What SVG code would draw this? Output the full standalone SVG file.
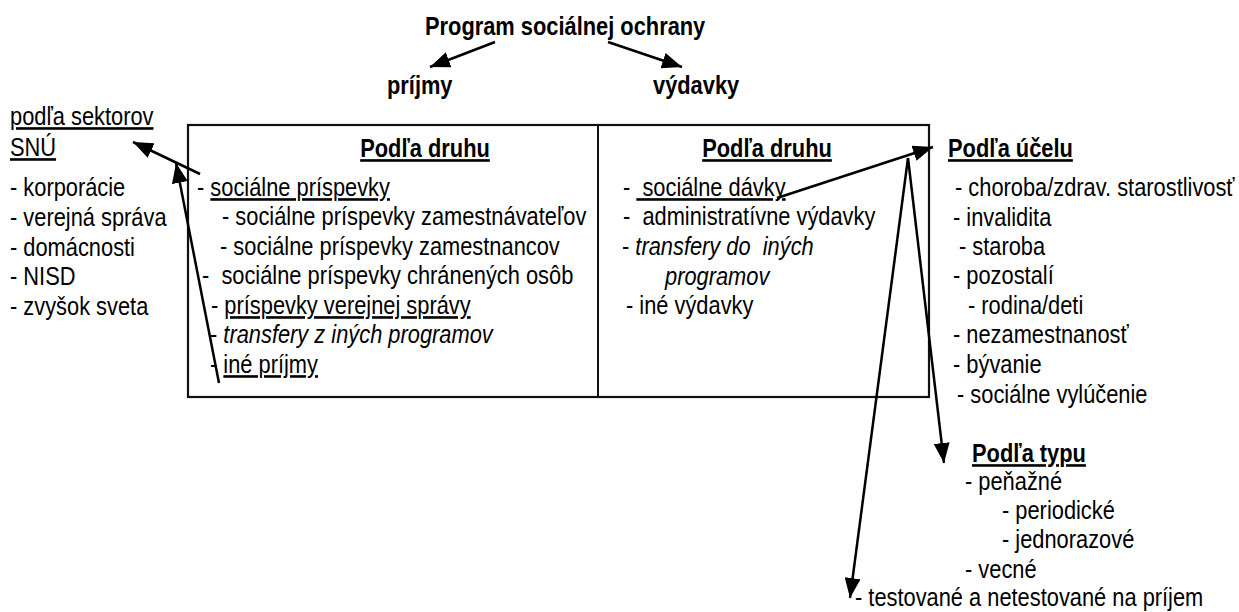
<svg xmlns="http://www.w3.org/2000/svg" width="1239" height="612" viewBox="0 0 1239 612" xml:space="preserve">
<style>
text{font-family:"Liberation Sans",Arial,sans-serif;font-size:26px;fill:#000;white-space:pre}
.b{font-weight:bold}
.i{font-style:italic}
.u{text-decoration:underline}
.mid{text-anchor:middle}
.con{stroke:#000;stroke-width:2.5;fill:none}
.box{fill:#fff;stroke:#111;stroke-width:2.2}
</style>
<defs>
<marker id="ah" markerUnits="userSpaceOnUse" markerWidth="22" markerHeight="16" refX="20" refY="8" orient="auto">
<path d="M0,0 L20,8 L0,16 z" fill="#000"/>
</marker>
</defs>
<rect width="1239" height="612" fill="#fff"/>

<g id="box">
<rect class="box" x="188" y="125" width="741" height="272"/>
<line x1="598" y1="125" x2="598" y2="397" stroke="#111" stroke-width="2"/>
</g>

<g id="title"><text class="b" transform="translate(425,35) scale(0.84,1)">Program sociálnej ochrany</text></g>
<g id="prijmy"><text class="b" transform="translate(387,94) scale(0.84,1)">príjmy</text></g>
<g id="vydavky"><text class="b" transform="translate(653,94) scale(0.84,1)">výdavky</text></g>

<g id="sektory">
<text class="u" transform="translate(10,125) scale(0.84,1)">podľa sektorov</text>
<text class="u" transform="translate(10,156) scale(0.84,1)">SNÚ</text>
<text transform="translate(10,196) scale(0.84,1)">- korporácie</text>
<text transform="translate(10,226) scale(0.84,1)">- verejná správa</text>
<text transform="translate(10,256) scale(0.84,1)">- domácnosti</text>
<text transform="translate(10,285) scale(0.84,1)">- NISD</text>
<text transform="translate(10,315) scale(0.84,1)">- zvyšok sveta</text>
</g>

<g id="prijmy-druh">
<text class="b u mid" transform="translate(425,157) scale(0.84,1)">Podľa druhu</text>
<text transform="translate(197,196) scale(0.84,1)">- <tspan class="u">sociálne príspevky</tspan></text>
<text transform="translate(222,225) scale(0.84,1)">- sociálne príspevky zamestnávateľov</text>
<text transform="translate(220,255) scale(0.84,1)">- sociálne príspevky zamestnancov</text>
<text transform="translate(202,284) scale(0.84,1)">-  sociálne príspevky chránených osôb</text>
<text transform="translate(211,314) scale(0.84,1)">- <tspan class="u">príspevky verejnej správy</tspan></text>
<text transform="translate(210,343) scale(0.84,1)">- <tspan class="i">transfery z iných programov</tspan></text>
<text transform="translate(210,373) scale(0.84,1)">- <tspan class="u">iné príjmy</tspan></text>
</g>

<g id="vydavky-druh">
<text class="b u mid" transform="translate(767,157) scale(0.84,1)">Podľa druhu</text>
<text transform="translate(623,196) scale(0.84,1)">- <tspan class="u"> sociálne dávky</tspan></text>
<text transform="translate(623,225) scale(0.84,1)">-  administratívne výdavky</text>
<text transform="translate(622,255) scale(0.84,1)">- <tspan class="i">transfery do  iných</tspan></text>
<text class="i" transform="translate(665,285) scale(0.84,1)">programov</text>
<text transform="translate(626,314) scale(0.84,1)">- iné výdavky</text>
</g>

<g id="ucel">
<text class="b u" transform="translate(948,157) scale(0.84,1)">Podľa účelu</text>
<text transform="translate(955,196) scale(0.84,1)">- choroba/zdrav. starostlivosť</text>
<text transform="translate(953,226) scale(0.84,1)">- invalidita</text>
<text transform="translate(959,255) scale(0.84,1)">- staroba</text>
<text transform="translate(953,284) scale(0.84,1)">- pozostalí</text>
<text transform="translate(968,314) scale(0.84,1)">- rodina/deti</text>
<text transform="translate(953,343) scale(0.84,1)">- nezamestnanosť</text>
<text transform="translate(953,373) scale(0.84,1)">- bývanie</text>
<text transform="translate(957,403) scale(0.84,1)">- sociálne vylúčenie</text>
</g>

<g id="typ">
<text class="b u" transform="translate(972,462) scale(0.84,1)">Podľa typu</text>
<text transform="translate(965,490) scale(0.84,1)">- peňažné</text>
<text transform="translate(1002,519) scale(0.84,1)">- periodické</text>
<text transform="translate(1002,548) scale(0.84,1)">- jednorazové</text>
<text transform="translate(965,578) scale(0.84,1)">- vecné</text>
</g>

<g id="testovane">
<text transform="translate(855,606) scale(0.84,1)">- testované a netestované na príjem</text>
</g>

<g id="connectors">
<line class="con" x1="495" y1="42" x2="430" y2="67" marker-end="url(#ah)"/>
<line class="con" x1="608" y1="42" x2="682" y2="67" marker-end="url(#ah)"/>
<line class="con" x1="200" y1="174" x2="133" y2="142" marker-end="url(#ah)"/>
<line class="con" x1="219" y1="383" x2="176" y2="163" marker-end="url(#ah)"/>
<line class="con" x1="777" y1="198" x2="933" y2="147" marker-end="url(#ah)"/>
<line class="con" x1="908" y1="158" x2="850" y2="598" marker-end="url(#ah)"/>
<line class="con" x1="908" y1="158" x2="944" y2="463" marker-end="url(#ah)"/>
</g>
</svg>
